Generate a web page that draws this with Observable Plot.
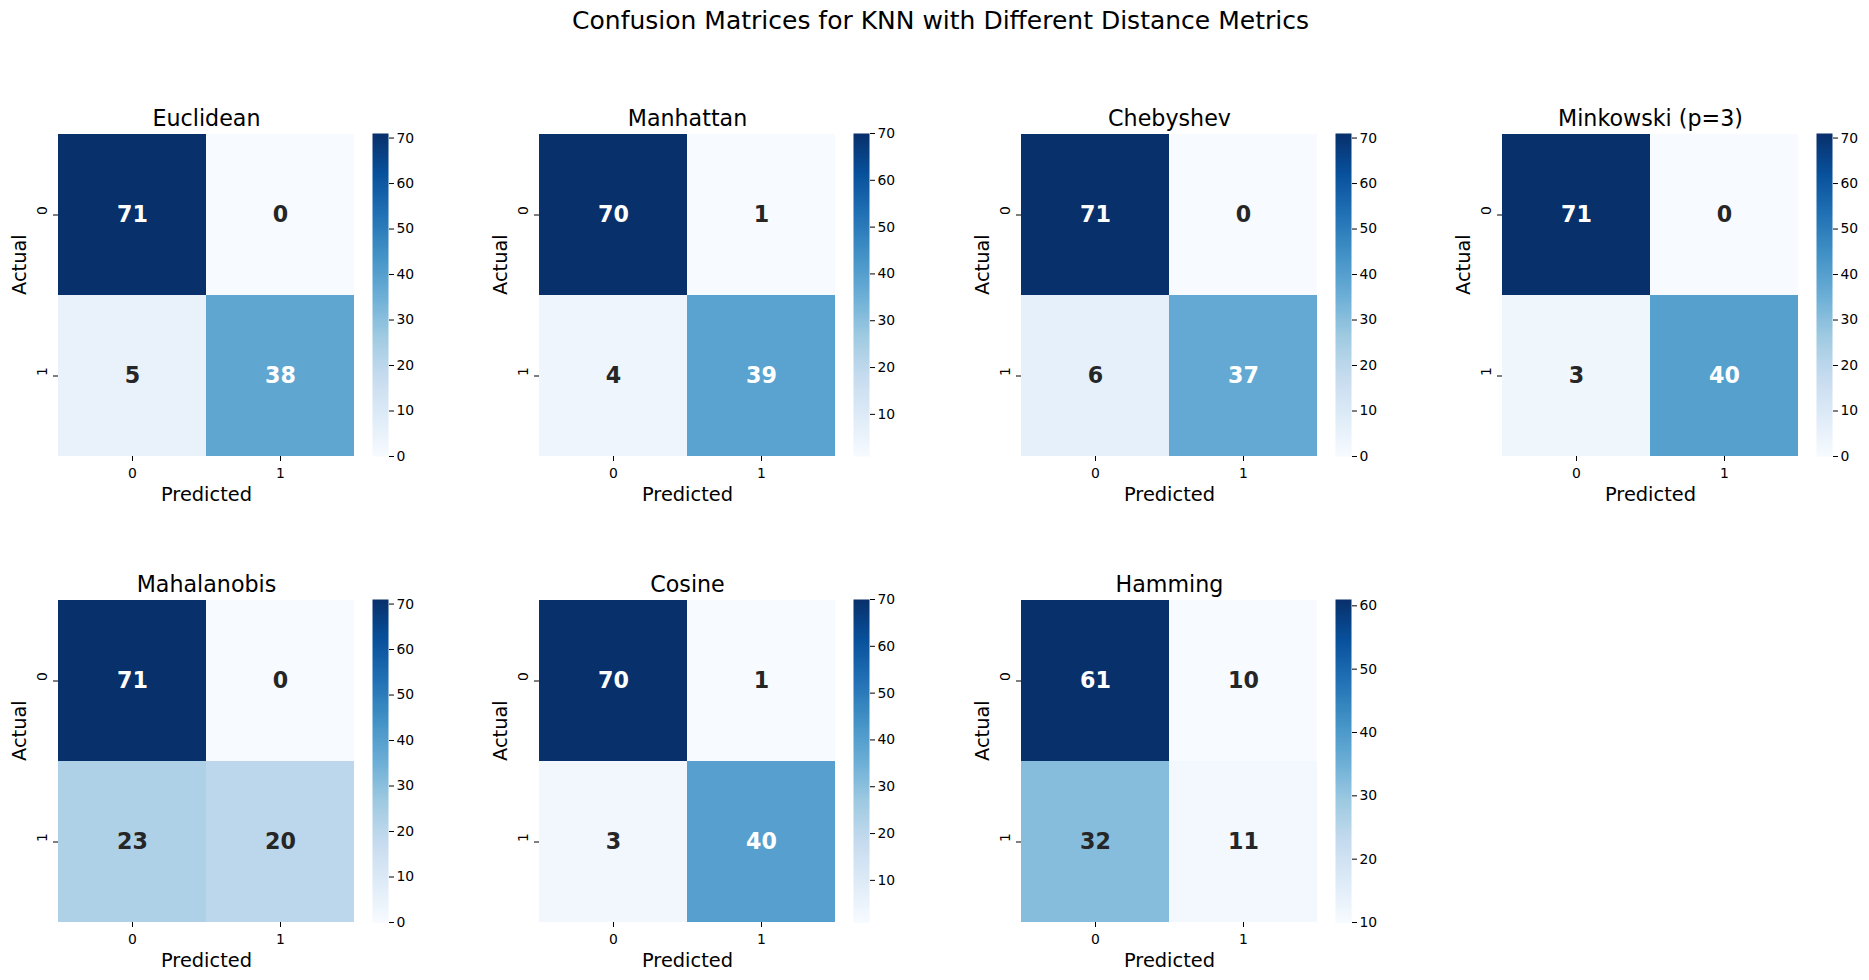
<!DOCTYPE html>
<html>
<head>
<meta charset="utf-8">
<script src="https://cdn.jsdelivr.net/npm/d3@7"></script>
<script src="https://cdn.jsdelivr.net/npm/@observablehq/plot@0.6"></script>
<style>
  html, body { margin: 0; padding: 0; background: #fff; }
  #root { position: relative; width: 1869px; height: 980px; background: #fff; font-family: "DejaVu Sans", sans-serif; overflow: hidden; }
  #root > .pane { position: absolute; }
  #suptitle { position: absolute; top: 6px; left: 6px; width: 1869px; text-align: center; font-size: 25px; color: #000; }
</style>
</head>
<body>
<div id="root">
  <div id="suptitle">Confusion Matrices for KNN with Different Distance Metrics</div>
</div>
<script>
// ---- data ----
const metrics = ["Euclidean", "Manhattan", "Chebyshev", "Minkowski (p=3)", "Mahalanobis", "Cosine", "Hamming"];
const classLabels = ["0", "1"];
const trueNeg  = [71, 70, 71, 71, 71, 70, 61]; // actual 0, predicted 0
const falsePos = [0, 1, 0, 0, 0, 1, 10];       // actual 0, predicted 1
const falseNeg = [5, 4, 6, 3, 23, 3, 32];      // actual 1, predicted 0
const truePos  = [38, 39, 37, 40, 20, 40, 11]; // actual 1, predicted 1

// ---- layout ----
const colX = [58, 539, 1021, 1502];
const rowY = [133, 599];
const hmW = 296, hmH = 323;
const mT = 45, mB = 60, mL = 58;
const cbOffset = 314, cbW = 16, cbMR = 44;
const FONT = "DejaVu Sans";
const TICK = 13.9, TITLE = 22.2, LABEL = 19.4, ANNOT = 22.2;

const blues9 = ["#f7fbff","#deebf7","#c6dbef","#9ecae1","#6baed6","#4292c6","#2171b5","#08519c","#08306b"];
const blues = d3.piecewise(d3.interpolateRgb, blues9);

function luminance(c) {
  const col = d3.rgb(c);
  const f = v => { v /= 255; return v <= 0.03928 ? v / 12.92 : Math.pow((v + 0.055) / 1.055, 2.4); };
  return 0.2126 * f(col.r) + 0.7152 * f(col.g) + 0.0722 * f(col.b);
}

const root = document.getElementById("root");

metrics.forEach((name, i) => {
  const cells = [
    {actual: classLabels[0], pred: classLabels[0], value: trueNeg[i]},
    {actual: classLabels[0], pred: classLabels[1], value: falsePos[i]},
    {actual: classLabels[1], pred: classLabels[0], value: falseNeg[i]},
    {actual: classLabels[1], pred: classLabels[1], value: truePos[i]}
  ];
  const vals = cells.map(d => d.value);
  const vmin = d3.min(vals), vmax = d3.max(vals);
  const colorOf = v => blues((v - vmin) / (vmax - vmin));
  const isLight = d => luminance(colorOf(d.value)) > 0.408;

  const hx = colX[i % 4], hy = rowY[Math.floor(i / 4)];

  const heat = Plot.plot({
    width: mL + hmW,
    height: mT + hmH + mB,
    marginLeft: mL, marginRight: 0, marginTop: mT, marginBottom: mB,
    style: {fontFamily: FONT, color: "#000", background: "transparent", overflow: "visible"},
    x: {type: "band", domain: classLabels, padding: 0},
    y: {type: "band", domain: classLabels, padding: 0},
    color: {type: "linear", domain: [vmin, vmax], interpolate: blues},
    marks: [
      Plot.cell(cells, {x: "pred", y: "actual", fill: "value", inset: 0}),
      Plot.text(cells.filter(d => !isLight(d)), {x: "pred", y: "actual", text: d => String(d.value), fill: "white", fontSize: ANNOT, fontWeight: "bold"}),
      Plot.text(cells.filter(isLight), {x: "pred", y: "actual", text: d => String(d.value), fill: "#262626", fontSize: ANNOT, fontWeight: "bold"}),
      Plot.axisX({anchor: "bottom", tickSize: 5, tickFormat: () => "", label: null}),
      Plot.axisY({anchor: "left", tickSize: 5, tickFormat: () => "", label: null}),
      Plot.text(classLabels, {x: d => d, frameAnchor: "bottom", text: d => d, lineAnchor: "top", dy: 12, fontSize: TICK, fill: "#000"}),
      Plot.text(classLabels, {y: d => d, frameAnchor: "left", text: d => d, rotate: -90, lineAnchor: "bottom", dx: -12, fontSize: TICK, fill: "#000"}),
      Plot.text([name], {frameAnchor: "top", text: d => d, lineAnchor: "bottom", dy: -8, fontSize: TITLE, fill: "#000"}),
      Plot.text(["Predicted"], {frameAnchor: "bottom", text: d => d, lineAnchor: "bottom", dy: 44, fontSize: LABEL, fill: "#000"}),
      Plot.text(["Actual"], {frameAnchor: "left", text: d => d, rotate: -90, lineAnchor: "middle", dx: -39, fontSize: LABEL, fill: "#000"})
    ]
  });
  heat.classList.add("pane");
  heat.style.left = (hx - mL) + "px";
  heat.style.top = (hy - mT) + "px";
  root.appendChild(heat);

  const cbTicks = d3.ticks(vmin, vmax, 6);
  const cb = Plot.plot({
    width: cbW + cbMR,
    height: mT + hmH + mB,
    marginLeft: 0, marginRight: cbMR, marginTop: mT, marginBottom: mB,
    style: {fontFamily: FONT, color: "#000", background: "transparent", overflow: "visible"},
    x: {domain: [0, 1], axis: null},
    y: {domain: [vmin, vmax]},
    color: {type: "linear", domain: [vmin, vmax], interpolate: blues},
    marks: [
      Plot.raster({x1: 0, x2: 1, y1: vmin, y2: vmax, width: 1, height: 300, fill: (x, y) => y, imageRendering: "auto"}),
      Plot.axisY({anchor: "right", ticks: cbTicks, tickSize: 5, tickFormat: () => "", label: null}),
      Plot.text(cbTicks, {y: d => d, frameAnchor: "right", text: d => String(d), textAnchor: "start", lineAnchor: "middle", dx: 8, fontSize: TICK, fill: "#000"})
    ]
  });
  cb.classList.add("pane");
  cb.style.left = (hx + cbOffset) + "px";
  cb.style.top = (hy - mT) + "px";
  root.appendChild(cb);
});
</script>
</body>
</html>
